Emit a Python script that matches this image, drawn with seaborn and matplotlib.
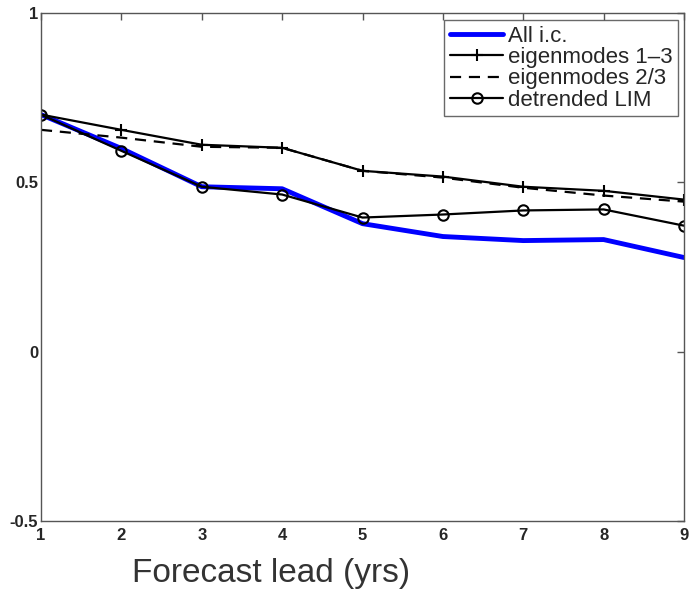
import numpy as np
import pandas as pd
import matplotlib
matplotlib.use("Agg")
import matplotlib.pyplot as plt
import seaborn as sns

leads = [1, 2, 3, 4, 5, 6, 7, 8, 9]
all_ic = [0.70, 0.60, 0.487, 0.481, 0.378, 0.340, 0.328, 0.331, 0.278]
eig13 = [0.70, 0.655, 0.611, 0.602, 0.534, 0.517, 0.487, 0.475, 0.449]
eig23 = [0.655, 0.632, 0.605, 0.602, 0.534, 0.514, 0.484, 0.461, 0.443]
detr = [0.70, 0.593, 0.487, 0.464, 0.396, 0.405, 0.417, 0.420, 0.372]
xticks = [1, 2, 3, 4, 5, 6, 7, 8, 9]
yticks = [-0.5, 0, 0.5, 1]
ytick_labels = ["-0.5", "0", "0.5", "1"]

sns.set_style("white")
plt.rcParams['font.family'] = ['Liberation Sans', 'DejaVu Sans']

fig = plt.figure(figsize=(6.89, 5.92), dpi=100)
ax = fig.add_axes([41/689, 1 - 521/592, 643/689, 508/592])

df = pd.DataFrame({"lead": leads, "all": all_ic, "e13": eig13, "e23": eig23, "det": detr})

sns.lineplot(data=df, x="lead", y="all", ax=ax, color="#0000ff", linewidth=3.5, label="All i.c.")
sns.lineplot(data=df, x="lead", y="e13", ax=ax, color="black", linewidth=1.6, marker="+",
             markersize=8, markeredgewidth=1.5, markeredgecolor="black", label="eigenmodes 1\u20133")
sns.lineplot(data=df, x="lead", y="e23", ax=ax, color="black", linewidth=1.6, linestyle=(0, (5, 3.5)),
             label="eigenmodes 2/3")
sns.lineplot(data=df, x="lead", y="det", ax=ax, color="black", linewidth=1.6, marker="o",
             markersize=7.5, markerfacecolor="none", markeredgecolor="black", markeredgewidth=1.5,
             label="detrended LIM")

ax.set_xlim(1, 9)
ax.set_ylim(-0.5, 1)
ax.set_xticks(xticks)
ax.set_xticklabels([str(t) for t in xticks])
ax.set_yticks(yticks)
ax.set_yticklabels(ytick_labels)
ax.tick_params(direction="in", length=5, width=1, color="#555555", top=True, right=True,
               labelsize=12, pad=2)
ax.tick_params(axis="x", pad=5)
for lab in ax.get_xticklabels() + ax.get_yticklabels():
    lab.set_fontweight("bold")
for s in ax.spines.values():
    s.set_color("#555555")
    s.set_linewidth(1)
ax.set_ylabel("")
ax.set_xlabel("")
fig.text(271/689, 1 - 582/592, "Forecast lead (yrs)", fontsize=24, color="#333333",
         ha="center", va="baseline")

leg = ax.legend(loc="upper right", fontsize=16, frameon=True, fancybox=False,
                bbox_to_anchor=(678/689, 1 - 20/592), bbox_transform=fig.transFigure,
                borderaxespad=0, handlelength=2.4, handletextpad=0.2,
                labelspacing=0.02, borderpad=0.25)
leg.get_frame().set_edgecolor("#444444")
leg.get_frame().set_linewidth(1)

fig.savefig("out.png", dpi=100)
